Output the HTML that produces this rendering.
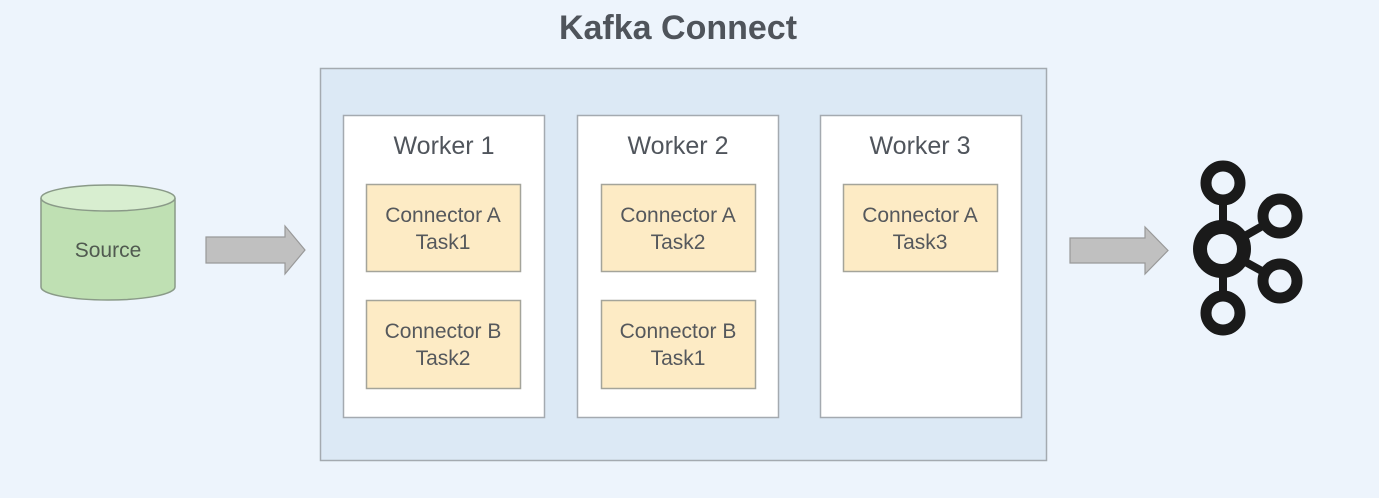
<!DOCTYPE html>
<html><head><meta charset="utf-8"><style>
html,body{margin:0;padding:0;background:#edf4fc;}
svg{display:block}
text{font-family:"Liberation Sans",sans-serif;}
</style></head><body>
<svg width="1379" height="498" viewBox="0 0 1379 498" xmlns="http://www.w3.org/2000/svg">
<rect width="1379" height="498" fill="#edf4fc"/>
<text x="678" y="39" text-anchor="middle" font-size="34" font-weight="bold" fill="#4f545b">Kafka Connect</text>
<rect x="320.5" y="68.5" width="726" height="392" fill="#dce9f5" stroke="#a4aab0" stroke-width="1.5"/>
<g stroke="#a4aab0" stroke-width="1.5" fill="#fff">
<rect x="343.5" y="115.5" width="201" height="302"/>
<rect x="577.5" y="115.5" width="201" height="302"/>
<rect x="820.5" y="115.5" width="201" height="302"/>
</g>
<g font-size="25" fill="#50555c" text-anchor="middle">
<text x="444" y="154">Worker 1</text>
<text x="678" y="154">Worker 2</text>
<text x="920" y="154">Worker 3</text>
</g>
<g stroke="#a4a49a" stroke-width="1.5" fill="#fdebc5">
<rect x="366.5" y="184.5" width="154" height="87"/>
<rect x="366.5" y="300.5" width="154" height="88"/>
<rect x="601.5" y="184.5" width="154" height="87"/>
<rect x="601.5" y="300.5" width="154" height="88"/>
<rect x="843.5" y="184.5" width="154" height="87"/>
</g>
<g font-size="21" fill="#55585c" text-anchor="middle">
<text x="443" y="222">Connector A</text><text x="443" y="249">Task1</text>
<text x="443" y="338">Connector B</text><text x="443" y="365">Task2</text>
<text x="678" y="222">Connector A</text><text x="678" y="249">Task2</text>
<text x="678" y="338">Connector B</text><text x="678" y="365">Task1</text>
<text x="920" y="222">Connector A</text><text x="920" y="249">Task3</text>
</g>
<!-- cylinder -->
<path d="M41 198 L41 287 A67 13 0 0 0 175 287 L175 198" fill="#bfe0b3" stroke="#8a9a88" stroke-width="1.5"/>
<ellipse cx="108" cy="198" rx="67" ry="13" fill="#d8eed0" stroke="#8a9a88" stroke-width="1.5"/>
<text x="108" y="257" text-anchor="middle" font-size="21" fill="#505a50">Source</text>
<!-- arrows -->
<path d="M206 237 L285 237 L285 226 L305 250 L285 274 L285 263 L206 263 Z" fill="#c0c0c0" stroke="#999" stroke-width="1.2"/>
<path d="M1070 238 L1145 238 L1145 227 L1168 250.5 L1145 274 L1145 263 L1070 263 Z" fill="#c0c0c0" stroke="#999" stroke-width="1.2"/>
<!-- kafka logo -->
<g stroke="#1a1a1a" fill="none">
<line x1="1223" y1="183" x2="1223" y2="313" stroke-width="8"/>
<line x1="1222" y1="249" x2="1280" y2="216" stroke-width="8"/>
<line x1="1222" y1="249" x2="1280" y2="281" stroke-width="8"/>
<circle cx="1223" cy="183" r="17" stroke-width="11" fill="#edf4fc"/>
<circle cx="1280" cy="216" r="17" stroke-width="11" fill="#edf4fc"/>
<circle cx="1280" cy="281" r="17" stroke-width="11" fill="#edf4fc"/>
<circle cx="1223" cy="313" r="17" stroke-width="11" fill="#edf4fc"/>
<circle cx="1222" cy="249" r="22" stroke-width="14" fill="#edf4fc"/>
</g>
</svg>
</body></html>
